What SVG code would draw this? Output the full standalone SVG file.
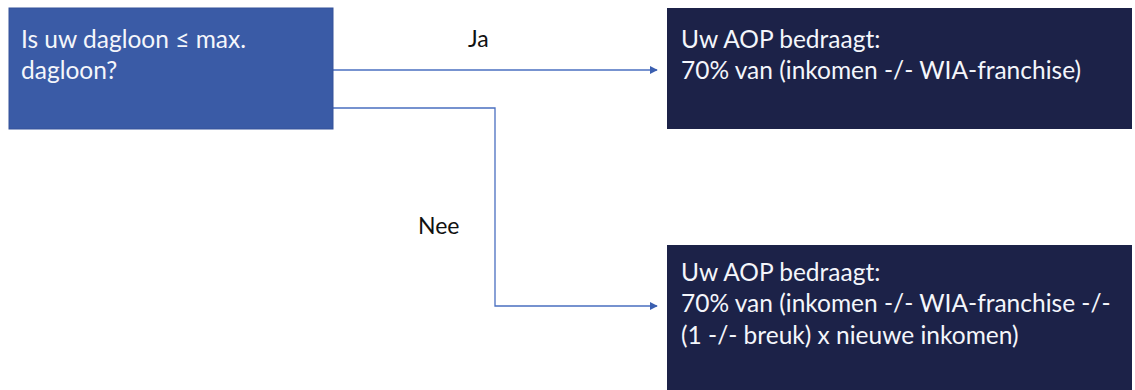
<svg xmlns="http://www.w3.org/2000/svg" width="1135" height="390" viewBox="0 0 1135 390">
  <style>
    .t { font-family: Lato, "Open Sans", "Liberation Sans", sans-serif; font-size: 24.5px; fill: #f4f6fb; }
    .lbl { font-family: Lato, "Open Sans", "Liberation Sans", sans-serif; font-size: 23px; fill: #111111; }
    .conn { fill: none; stroke: #4A6FC0; stroke-width: 1.3; }
  </style>
  <defs>
    <marker id="arr" viewBox="0 0 10 10" refX="9" refY="5" markerWidth="8" markerHeight="8" markerUnits="userSpaceOnUse" orient="auto">
      <path d="M0,0 L10,5 L0,10 Z" fill="#3B5FB0"/>
    </marker>
  </defs>
  <rect width="1135" height="390" fill="#ffffff"/>
  <g id="connectors">
    <path class="conn" d="M333,70 L657,70" marker-end="url(#arr)"/>
    <path class="conn" d="M333,108 L495,108 L495,306 L657,306" marker-end="url(#arr)"/>
    <text class="lbl" x="468" y="47">Ja</text>
    <text class="lbl" x="418" y="234">Nee</text>
  </g>
  <g id="question">
    <rect x="9" y="8" width="324" height="121" fill="#3A5BA6" stroke="#34529a" stroke-width="1"/>
    <text class="t" x="21" y="48">Is uw dagloon ≤ max.</text>
    <text class="t" x="21" y="79">dagloon?</text>
  </g>
  <g id="ja-result">
    <rect x="667" y="8" width="465" height="121" fill="#1C2248"/>
    <text class="t" x="681" y="48">Uw AOP bedraagt:</text>
    <text class="t" x="681" y="79">70% van (inkomen -/- WIA-franchise)</text>
  </g>
  <g id="nee-result">
    <rect x="667" y="245" width="465" height="145" fill="#1C2248"/>
    <text class="t" x="681" y="281">Uw AOP bedraagt:</text>
    <text class="t" x="681" y="312">70% van (inkomen -/- WIA-franchise -/-</text>
    <text class="t" x="681" y="344">(1 -/- breuk) x nieuwe inkomen)</text>
  </g>
</svg>
